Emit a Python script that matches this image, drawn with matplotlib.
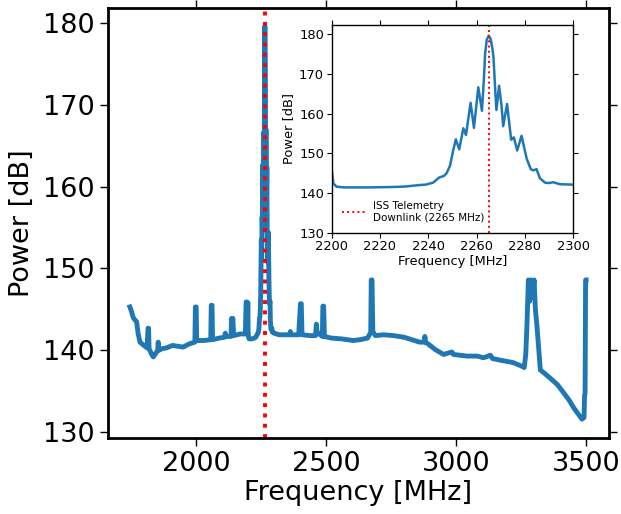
import numpy as np
import matplotlib
matplotlib.use("Agg")
import matplotlib.pyplot as plt

# spectrum (MHz, dB)
freq = [1746, 1752, 1759, 1766, 1772, 1778, 1785, 1800, 1812, 1816, 1818, 1820,
        1830, 1836, 1845, 1853, 1855, 1857, 1870, 1887, 1910, 1930, 1951, 1975,
        1996, 1998, 2001, 2003, 2030, 2057, 2059, 2062, 2064, 2090, 2110, 2113,
        2116, 2135, 2137, 2140, 2142, 2145, 2170, 2190, 2193, 2197,
        2200, 2200.7, 2202, 2205, 2215, 2225, 2230, 2236.5, 2239, 2242, 2244.5,
        2246.5, 2247.6, 2249, 2250.3, 2251.4, 2252.8, 2254.5, 2255.6, 2257.5,
        2258.9, 2260.7, 2262.2, 2263, 2263.5, 2264.2, 2265, 2265.8, 2266.5,
        2267, 2267.6, 2268.2, 2269.3, 2270.3, 2271, 2272.6, 2274.3, 2275.4, 2276.8,
        2278.6, 2280.7, 2282.4, 2283.5, 2284.8, 2286.2, 2288.3, 2290, 2291.7,
        2294.5, 2300,
        2320, 2360, 2363, 2366, 2395, 2402, 2405, 2408, 2440, 2460, 2463, 2466,
        2486, 2488, 2491, 2494, 2520, 2560, 2605, 2630, 2660, 2672, 2674, 2677,
        2680, 2690, 2720, 2760, 2800, 2830, 2860, 2878, 2880, 2883, 2900, 2920,
        2952, 2984, 2990, 3042, 3080, 3106, 3132, 3140, 3170, 3220, 3250, 3262,
        3268, 3273, 3278, 3283, 3288, 3293, 3300, 3305, 3311, 3318, 3324, 3340,
        3362, 3390, 3414, 3435, 3452, 3470, 3484, 3492, 3494, 3496, 3498, 3500]
power = [145.3, 144.8, 144.0, 143.7, 143.5, 142.0, 141.0, 140.6, 140.3, 142.7, 142.7, 140.2,
         139.5, 139.2, 139.6, 140.0, 141.0, 140.0, 140.2, 140.3, 140.6, 140.5, 140.4, 140.8,
         141.0, 145.3, 145.3, 141.2, 141.2, 141.3, 145.5, 145.5, 141.3, 141.5, 141.6, 142.1,
         141.7, 141.7, 143.9, 143.6, 143.9, 141.8, 142.0, 142.0, 145.9, 145.9,
         145.8, 142.4, 141.6, 141.4, 141.4, 141.5, 141.6, 142.0, 142.1, 142.6, 143.9,
         144.3, 145.0, 146.9, 150.7, 153.5, 151.0, 156.3, 154.6, 162.7,
         156.4, 166.6, 160.7, 168.5, 175.0, 178.6, 179.6, 178.8, 176.5,
         174.0, 167.0, 160.9, 167.0, 162.0, 156.8, 162.4, 153.4, 154.0, 150.7,
         154.4, 148.7, 146.0, 145.7, 146.0, 143.7, 142.6, 142.5, 142.7,
         142.2, 142.1,
         141.9, 141.9, 142.3, 141.9, 141.9, 145.7, 145.7, 141.9, 141.8, 141.8, 143.2, 142.2,
         141.7, 145.4, 145.4, 141.7, 141.5, 141.4, 141.2, 141.3, 141.5, 142.2, 148.6, 148.6,
         142.3, 141.8, 141.9, 141.8, 141.6, 141.3, 141.0, 141.0, 141.7, 141.0, 140.6, 140.1,
         139.5, 139.8, 139.5, 139.3, 139.3, 139.1, 139.4, 139.0, 138.8, 138.5, 138.1, 137.9,
         139.5, 143.5, 148.6, 146.0, 148.6, 146.5, 148.6, 145.0, 143.0, 140.0, 137.6, 137.2,
         136.6, 135.8, 134.8, 133.9, 133.0, 132.2, 131.6, 131.8, 134.5, 134.8, 148.6, 148.6]

iss_freq = 2265
main_xticks = [2000, 2500, 3000, 3500]
main_yticks = [130, 140, 150, 160, 170, 180]
inset_xticks = [2200, 2220, 2240, 2260, 2280, 2300]
inset_yticks = [130, 140, 150, 160, 170, 180]

blue = '#1f77b4'

fig = plt.figure(figsize=(6.21, 5.14), dpi=100)

# main plot
ax = fig.add_axes([0.1739, 0.1479, 0.8068, 0.8365])
ax.plot(freq, power, color=blue, lw=3.5)
ax.axvline(iss_freq, color='red', ls=':', lw=2.8)
ax.set_xlim(1662, 3588)
ax.set_ylim(129.3, 181.8)
ax.set_xticks(main_xticks)
ax.set_yticks(main_yticks)
ax.tick_params(direction='out', length=6, width=1, labelsize=19.5,
               top=True, right=True)
for s in ax.spines.values():
    s.set_linewidth(2)
ax.set_xlabel('Frequency [MHz]', fontsize=19.5, labelpad=2)
ax.set_ylabel('Power [dB]', fontsize=19.5, labelpad=6)

# inset zoom on the downlink
ins = fig.add_axes([0.5341, 0.5473, 0.3890, 0.4041])
ins.plot(freq, power, color=blue, lw=1.8)
ins.axvline(iss_freq, color='red', ls=':', lw=1.4,
            label='ISS Telemetry\nDownlink (2265 MHz)')
ins.set_xlim(2200, 2300)
ins.set_ylim(130, 182.3)
ins.set_xticks(inset_xticks)
ins.set_yticks(inset_yticks)
ins.tick_params(direction='out', length=3.5, width=0.8, labelsize=9.4,
                top=True, right=True, pad=2)
for s in ins.spines.values():
    s.set_linewidth(1)
ins.set_xlabel('Frequency [MHz]', fontsize=9.4, labelpad=1)
ins.set_ylabel('Power [dB]', fontsize=9.4, labelpad=3)
ins.legend(loc='lower left', fontsize=7.5, frameon=False,
           handlelength=2.2, borderaxespad=0.6)

fig.savefig('out.png', dpi=100)
